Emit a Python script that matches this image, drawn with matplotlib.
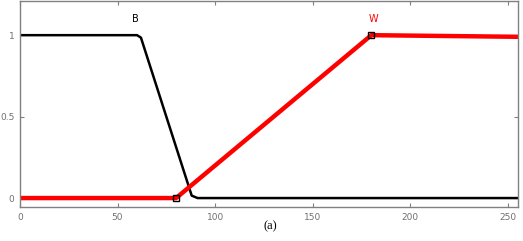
import matplotlib
matplotlib.use("Agg")
import matplotlib.pyplot as plt

# membership functions
b_x = [0, 60, 62, 88, 91, 255]
b_y = [1, 1, 0.985, 0.015, 0, 0]
w_x = [0, 80, 180, 255]
w_y = [0, 0, 1, 0.99]
marker_x = [80, 180]
marker_y = [0, 1]
xticks = [0, 50, 100, 150, 200, 250]
yticks = [0, 0.5, 1]

fig = plt.figure(figsize=(5.23, 2.41), dpi=100)
ax = fig.add_axes([0.038, 0.141, 0.952, 0.855])

ax.plot(b_x, b_y, color="black", lw=1.8)
ax.plot(w_x, w_y, color="red", lw=3.2)
ax.plot(marker_x, marker_y, "s", mfc="none", mec="black", ms=5, mew=1)

ax.text(59, 1.1, "B", color="black", fontsize=7, ha="center", va="center")
ax.text(181, 1.1, "W", color="red", fontsize=7, ha="center", va="center")

ax.set_xlim(0, 255)
ax.set_ylim(-0.055, 1.21)
ax.set_xticks(xticks)
ax.set_yticks(yticks)
ax.set_yticklabels(["0", "0.5", "1"])
ax.tick_params(direction="in", top=True, right=True, length=3,
               labelsize=6.5, colors="#808080", labelcolor="#707070", pad=4)
for s in ax.spines.values():
    s.set_color("#808080")
    s.set_linewidth(1)

fig.text(0.516, 0.062, "(a)", family="Liberation Serif", fontsize=9,
         ha="center", va="center")

fig.savefig("out.png", dpi=100)
